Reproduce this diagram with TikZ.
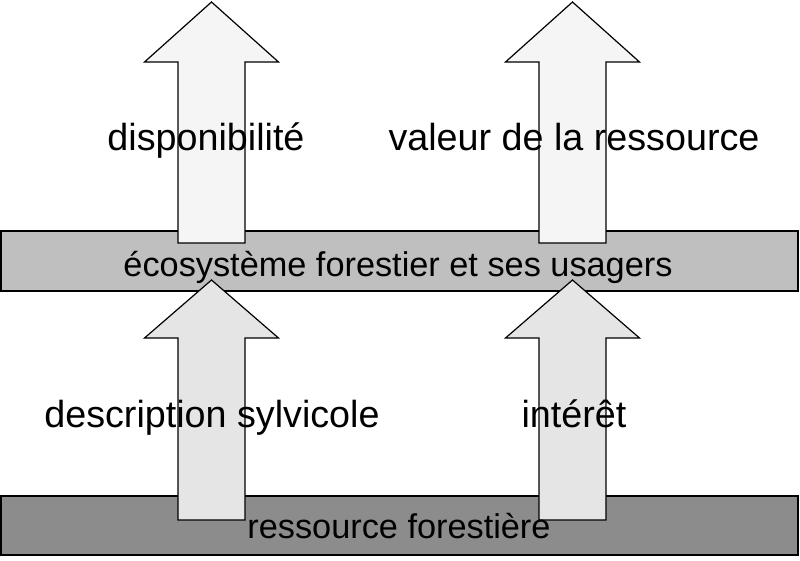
\documentclass[tikz,border=0pt]{standalone}
\usepackage{fontspec}
\setmainfont{Liberation Sans}
\begin{document}
\begin{tikzpicture}[x=1pt,y=-1pt,
  bar/.style={draw=black,line width=1.2pt},
  arr/.style={draw=black,line width=1.2pt},
  lbl/.style={font=\fontsize{37.7}{40}\selectfont,inner sep=0pt,anchor=base},
  blbl/.style={font=\fontsize{34.3}{38}\selectfont,inner sep=0pt,anchor=base}]
\useasboundingbox (0,0) rectangle (800,560);
\path[bar,fill=gray!50] (1,231) rectangle (798,291);
\path[bar,fill=black!45] (1,496) rectangle (798,555);
\foreach \c in {211.5,572.5}{
  \path[arr,fill=black!4] (\c-33.5,243) -- (\c-33.5,62) -- (\c-67,62) -- (\c,2) -- (\c+67,62) -- (\c+33.5,62) -- (\c+33.5,243) -- cycle;
  \path[arr,fill=black!10] (\c-33.5,520) -- (\c-33.5,338) -- (\c-67,338) -- (\c,280) -- (\c+67,338) -- (\c+33.5,338) -- (\c+33.5,520) -- cycle;
}
\node[lbl] (t1) at (206,150) {disponibilité};
\node[lbl] (t2) at (574,150) {valeur de la ressource};
\node[blbl] (t3) at (398,276) {écosystème forestier et ses usagers};
\node[lbl] (t4) at (212,427) {description sylvicole};
\node[lbl] (t5) at (574,427) {intérêt};
\node[blbl] (t6) at (399,538) {ressource forestière};
\end{tikzpicture}
\end{document}
